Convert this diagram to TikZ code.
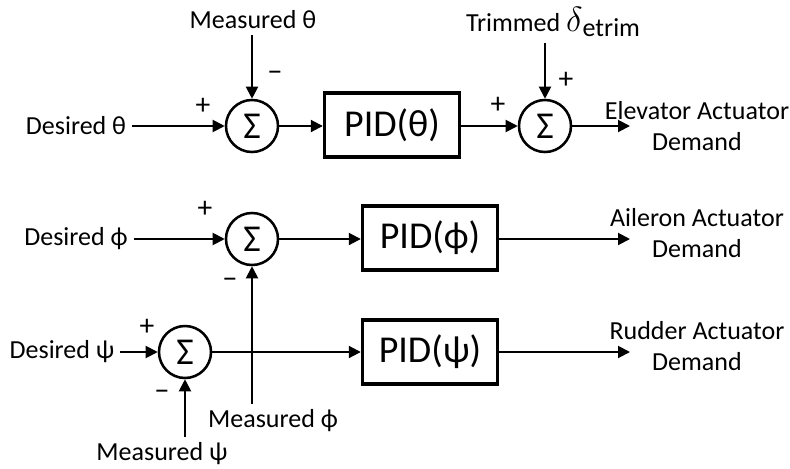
\documentclass[tikz,border=0pt]{standalone}
\usepackage{fontspec}
\setmainfont{Carlito}
\usetikzlibrary{positioning}
\usetikzlibrary{arrows.meta}
\tikzset{sumnode/.style={circle,draw=black,line width=1.8pt,
minimum size=1.3cm,inner sep=0pt,font=\fontsize{27}{27}\selectfont}}
\tikzset{pidbox/.style={rectangle,draw=black,line width=2.4pt,
minimum width=3.375cm,minimum height=1.6cm,inner sep=2pt,font=\fontsize{27}{32}\selectfont}}
\tikzset{sigtext/.style={inner sep=4pt,align=center,font=\fontsize{18.5}{21.5}\selectfont}}
\tikzset{signtext/.style={inner sep=0pt,font=\fontsize{21}{21}\selectfont}}
\tikzset{sigline/.style={line width=1.4pt,-{Triangle[length=3mm,width=3mm]}}}

\begin{document}
\begin{tikzpicture}[x=0.025cm,y=-0.025cm]
        \useasboundingbox (0,0) rectangle (790,468);

        % pitch loop
        \node[sigtext] (destheta) at (76,126) {Desired θ};
        \node[sumnode] (sumtheta) at (252,126) {Σ};
        \node[sigtext] (meastheta) at (253,20) {Measured θ};
        \node[pidbox] (pidtheta) at (392,125) {PID(θ)};
        \node[sumnode] (sumelev) at (545,126) {Σ};
        \node[sigtext] (trim) at (553,22) {Trimmed {\fontsize{23}{23}\selectfont$\delta$}\raisebox{-4pt}{etrim}};
        \node[sigtext] (elevout) at (697,126) {Elevator Actuator\\Demand};
        \coordinate (elevtip) at (630,126);

        \node[signtext] (pthetaa) at (203,106) {+};
        \node[signtext] (mthetab) at (275,76) {−};
        \node[signtext] (pelevea) at (498,105) {+};
        \node[signtext] (pelevb) at (566,80) {+};

        \draw[sigline] (destheta.east) -- (sumtheta.west);
        \draw[sigline] (meastheta.south -| sumtheta.north) -- (sumtheta.north);
        \draw[sigline] (sumtheta.east) -- (pidtheta.west |- sumtheta.east);
        \draw[sigline] (pidtheta.east |- sumelev.west) -- (sumelev.west);
        \draw[sigline] (trim.south -| sumelev.north) -- (sumelev.north);
        \draw[sigline] (sumelev.east) -- (elevtip);

        % roll loop
        \node[sigtext] (desphi) at (76,239) {Desired ϕ};
        \node[sumnode] (sumphi) at (252,239) {Σ};
        \node[pidbox] (pidphi) at (430,238) {PID(ϕ)};
        \node[sigtext] (measphi) at (273,421) {Measured ϕ};
        \node[sigtext] (aileronout) at (697,233) {Aileron Actuator\\Demand};
        \coordinate (ailerontip) at (630,239);

        \node[signtext] (pphia) at (205,209) {+};
        \node[signtext] (mphib) at (230,283) {−};

        \draw[sigline] (desphi.east) -- (sumphi.west);
        \draw[sigline] (sumphi.east) -- (pidphi.west |- sumphi.east);
        \draw[sigline] (measphi.north -| sumphi.south) -- (sumphi.south);
        \draw[sigline] (pidphi.east |- ailerontip) -- (ailerontip);

        % yaw loop
        \node[sigtext] (despsi) at (62,352) {Desired ψ};
        \node[sumnode] (sumpsi) at (185,352) {Σ};
        \node[pidbox] (pidpsi) at (430,352) {PID(ψ)};
        \node[sigtext] (measpsi) at (162,454) {Measured ψ};
        \node[sigtext] (rudderout) at (697,346) {Rudder Actuator\\Demand};
        \coordinate (ruddertip) at (630,352);

        \node[signtext] (ppsia) at (147,327) {+};
        \node[signtext] (mpsib) at (162,395) {−};

        \draw[sigline] (despsi.east) -- (sumpsi.west);
        \draw[sigline] (sumpsi.east) -- (pidpsi.west);
        \draw[sigline] (measpsi.north -| sumpsi.south) -- (sumpsi.south);
        \draw[sigline] (pidpsi.east) -- (ruddertip);

\end{tikzpicture}
\end{document}
